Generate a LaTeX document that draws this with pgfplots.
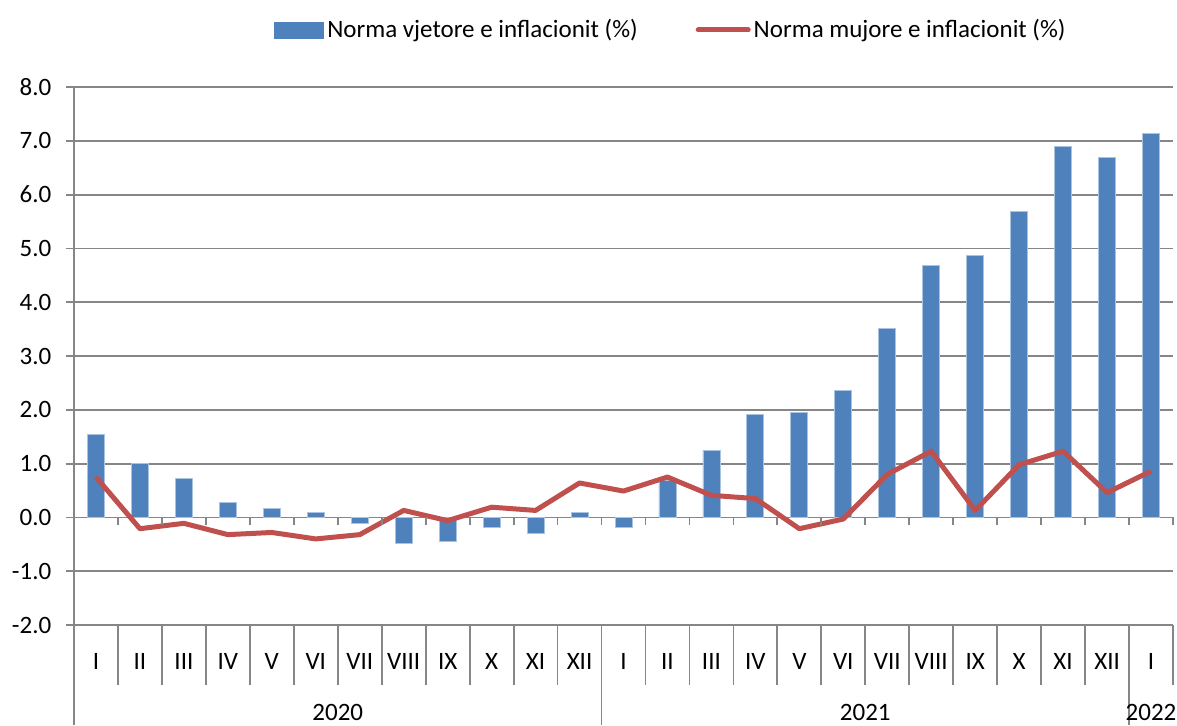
\documentclass[border=0pt]{standalone}
\usepackage{pgfplots}
\pgfplotsset{compat=1.18}
\usepackage{fontspec}
\setmainfont{Carlito}
\definecolor{barblue}{RGB}{79,129,189}
\definecolor{baredge}{RGB}{170,195,225}
\definecolor{linered}{RGB}{192,80,77}
\definecolor{gridgray}{RGB}{134,134,134}
\begin{document}
\fontsize{12.5pt}{15pt}\selectfont
\begin{tikzpicture}
\useasboundingbox (-37pt,-50pt) rectangle (551.5pt,312.5pt);
\begin{axis}[
  at={(0,0)}, anchor=south west,
  scale only axis, width=549.5pt, height=269pt,
  xmin=-0.5, xmax=24.5, ymin=-2, ymax=8,
  axis x line*=bottom, axis y line*=left,
  axis line style={gridgray, line width=0.9pt},
  ytick={-2,-1,0,1,2,3,4,5,6,7,8},
  yticklabels={-2.0,-1.0,0.0,1.0,2.0,3.0,4.0,5.0,6.0,7.0,8.0},
  xtick={0,...,24},
  xticklabels={I,II,III,IV,V,VI,VII,VIII,IX,X,XI,XII,I,II,III,IV,V,VI,VII,VIII,IX,X,XI,XII,I},
  tick align=outside, major tick length=4pt,
  ytick style={gridgray, line width=0.9pt},
  xtick style={draw=none},
  xticklabel style={anchor=center, yshift=-14pt},
  yticklabel style={xshift=-3pt},
  ymajorgrids, grid style={gridgray, line width=0.9pt},
  clip=false,
  legend columns=2,
  legend style={draw=none, fill=none, at={(axis description cs:0.5437,1.106)}, anchor=center,
    inner sep=0pt,
    /tikz/every even column/.append style={column sep=27.5pt},
    nodes={inner sep=1.5pt}},
  legend cell align=left,
]
\addplot[ybar, bar width=8.5pt, fill=barblue, draw=baredge, line width=0.4pt,
  legend image code/.code={\fill[barblue] (0pt,-4pt) rectangle (24.5pt,4pt);}]
  coordinates {
  (0,1.54) (1,1.00) (2,0.72) (3,0.28) (4,0.17) (5,0.10) (6,-0.12) (7,-0.49)
  (8,-0.45) (9,-0.19) (10,-0.30) (11,0.09) (12,-0.19) (13,0.69) (14,1.25)
  (15,1.91) (16,1.95) (17,2.36) (18,3.51) (19,4.68) (20,4.87) (21,5.69)
  (22,6.90) (23,6.69) (24,7.13)};
\addlegendentry{Norma vjetore e inflacionit (\%)}
\addplot[linered, line width=2.5pt, line join=round, mark=none,
  legend image code/.code={\draw[linered, line width=2.5pt, line cap=round] (0pt,0pt) -- (25pt,0pt);}]
  coordinates {
  (0,0.75) (1,-0.21) (2,-0.11) (3,-0.32) (4,-0.28) (5,-0.40) (6,-0.32) (7,0.13)
  (8,-0.06) (9,0.19) (10,0.13) (11,0.64) (12,0.49) (13,0.75) (14,0.41)
  (15,0.35) (16,-0.21) (17,-0.03) (18,0.80) (19,1.23) (20,0.13) (21,0.98)
  (22,1.23) (23,0.46) (24,0.86)};
\addlegendentry{Norma mujore e inflacionit (\%)}
% zero-line ticks and category separators
\pgfplotsinvokeforeach{-0.5,0.5,1.5,2.5,3.5,4.5,5.5,6.5,7.5,8.5,9.5,10.5,11.5,12.5,13.5,14.5,15.5,16.5,17.5,18.5,19.5,20.5,21.5,22.5,23.5,24.5}{
  \draw[gridgray, line width=0.9pt] (axis cs:#1,0) -- ([yshift=-4pt]axis cs:#1,0);
  \draw[gridgray, line width=0.9pt] (axis cs:#1,-2) -- ([yshift=-30pt]axis cs:#1,-2);
}
\pgfplotsinvokeforeach{-0.5,11.5,23.5}{
  \draw[gridgray, line width=0.9pt] (axis cs:#1,-2) -- ([yshift=-50pt]axis cs:#1,-2);
}
\node[anchor=center] at ([yshift=-43.5pt]axis cs:5.5,-2) {2020};
\node[anchor=center] at ([yshift=-43.5pt]axis cs:17.5,-2) {2021};
\node[anchor=center] at ([yshift=-43.5pt]axis cs:24,-2) {2022};
\end{axis}
\end{tikzpicture}
\end{document}
